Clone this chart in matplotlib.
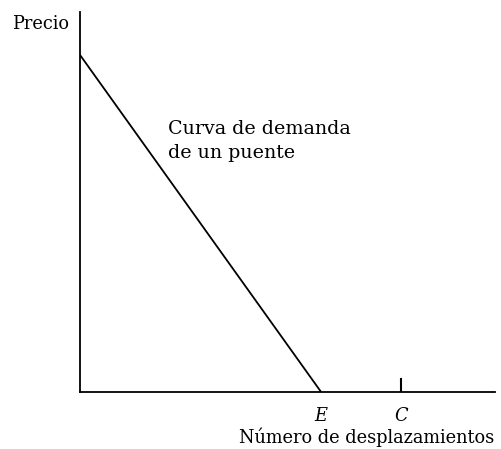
import matplotlib
matplotlib.use("Agg")
import matplotlib.pyplot as plt

# Data (arbitrary units)
demand_x = [0, 58.1]
demand_y = [88.7, 0]
tick_labels = ["E", "C"]
tick_positions = [58.1, 77.3]

plt.rcParams['font.family'] = ['DejaVu Serif']

fig = plt.figure(figsize=(5.01, 4.49), dpi=100)
ax = fig.add_axes([80/501, (449-392)/449, (495-80)/501, (392-12)/449])
ax.set_xlim(0, 100)
ax.set_ylim(0, 100)
for s in ['top', 'right']:
    ax.spines[s].set_visible(False)
for s in ['left', 'bottom']:
    ax.spines[s].set_linewidth(1.3)
ax.set_xticks([])
ax.set_yticks([])

ax.plot(demand_x, demand_y, color='black', lw=1.3, solid_capstyle='butt')

# tick at C
ax.plot([tick_positions[1]] * 2, [0, 3.4], color='black', lw=1.5)

fs = 12.8
for lab, pos in zip(tick_labels, tick_positions):
    ax.text(pos, -4.0, lab, ha='center', va='top', fontsize=fs, style='italic')

fig.text(494/501, 1 - 447/449, "Número de desplazamientos", ha='right', va='bottom',
         fontsize=fs)
fig.text(12/501, 1 - 29/449, "Precio", ha='left', va='baseline', fontsize=fs)
fig.text(168/501, 1 - 134/449, "Curva de demanda", ha='left', va='baseline', fontsize=13.7)
fig.text(168/501, 1 - 158/449, "de un puente", ha='left', va='baseline', fontsize=13.7)

fig.savefig("out.png", dpi=100)
